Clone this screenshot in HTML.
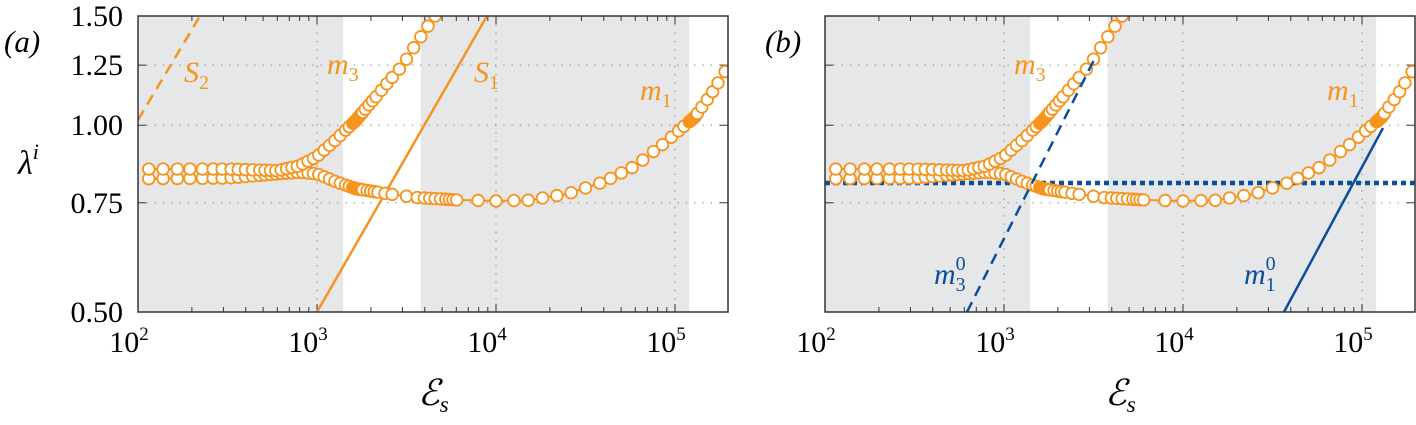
<!DOCTYPE html>
<html><head><meta charset="utf-8"><style>
html,body{margin:0;padding:0;background:#fff;width:1416px;height:425px;overflow:hidden}
svg, svg text, svg tspan{font-family:"Liberation Serif","Times New Roman","DejaVu Serif",serif !important}
svg text.cal{font-family:"DejaVu Serif",serif !important}
</style></head><body>
<svg id="s" width="1416" height="425" xmlns="http://www.w3.org/2000/svg">
<text x="4" y="52" font-size="31" font-style="italic">(a)</text>
<text x="765" y="52" font-size="31" font-style="italic">(b)</text>
</svg>
<script>
const S=document.getElementById('s');const NS='http://www.w3.org/2000/svg';
function el(t,a,txt){const e=document.createElementNS(NS,t);for(const k in a)e.setAttribute(k,a[k]);if(txt!=null)e.textContent=txt;S.appendChild(e);return e;}
const OR='#F7941D',BL='#0B4F9C',DEC=179,TOP=16,BOT=312;
function Y(l){return BOT-(Math.log(l)-Math.log(0.5))/(Math.log(1.5)-Math.log(0.5))*(BOT-TOP);}
const up=[[2.06,.85],[2.5,.85],[2.78,.845],[2.9,.86],[3,.89],[3.11,.95],[3.22,1.02],[3.34,1.12],[3.48,1.25],[3.66,1.5]];
const lo=[[2.06,.82],[2.5,.822],[2.78,.835],[2.9,.84],[3,.835],[3.11,.81],[3.22,.79],[3.4,.775],[3.55,.765],[3.78,.758],[4,.755],[4.18,.757],[4.4,.775],[4.6,.81],[4.78,.86],[4.95,.94],[5.11,1.03],[5.2,1.12],[5.28,1.22]];
function interp(c,L){for(let i=0;i<c.length-1;i++){if(L<=c[i+1][0]){const t=(L-c[i][0])/(c[i+1][0]-c[i][0]);return c[i][1]+t*(c[i+1][1]-c[i][1]);}}return c[c.length-1][1];}
const common=[2.06,2.14,2.22,2.29,2.36,2.42,2.47,2.52,2.56,2.60,2.64,2.68,2.71,2.74,2.77,2.80,2.83,2.86,2.89,2.92,2.95,2.98,3.01,3.04,3.07,3.10,3.13,3.16,3.18,3.20];
const dense=[];for(let l=3.205;l<=3.255;l+=0.005)dense.push(l);
const upX=common.concat(dense,[3.27,3.29,3.31,3.33,3.36,3.39,3.42,3.46,3.50,3.54,3.58,3.62,3.66]);
const d2=[];for(let l=5.08;l<=5.125;l+=0.005)d2.push(l);
const loX=common.concat(dense,[3.28,3.30,3.32,3.34,3.38,3.42,3.50,3.56,3.60,3.63,3.66,3.69,3.72,3.74,3.76,3.78,3.90,4.00,4.10,4.18,4.26,4.34,4.42,4.5,4.58,4.64,4.70,4.76,4.82,4.88,4.93,4.98,5.02,5.05],d2,[5.15,5.18,5.21,5.24,5.28]);
function panel(x0,b){
 const W=590,X=L=>x0+(L-2)*DEC;
 el('rect',{x:x0,y:TOP,width:X(Math.log10(1400))-x0,height:BOT-TOP,fill:'#E6E7E8'});
 el('rect',{x:X(Math.log10(3800)),y:TOP,width:X(Math.log10(120000))-X(Math.log10(3800)),height:BOT-TOP,fill:'#E6E7E8'});
 for(const v of [.75,1,1.25])el('line',{x1:x0,x2:x0+W,y1:Y(v),y2:Y(v),stroke:'#999','stroke-width':1.3,'stroke-dasharray':'1.3 7'});
 for(const d of [3,4,5])el('line',{x1:X(d),x2:X(d),y1:TOP,y2:BOT,stroke:'#999','stroke-width':1.3,'stroke-dasharray':'1.3 7'});
 for(let d=2;d<6;d++)for(let m=1;m<10;m++){const L=d+Math.log10(m);if(L>5.3)break;const len=m==1?8:5;const x=X(L);
  el('line',{x1:x,x2:x,y1:BOT,y2:BOT-len,stroke:'#333','stroke-width':1});el('line',{x1:x,x2:x,y1:TOP,y2:TOP+len,stroke:'#333','stroke-width':1});}
 for(const v of [.5,.75,1,1.25,1.5]){el('line',{x1:x0,x2:x0+8,y1:Y(v),y2:Y(v),stroke:'#333'});el('line',{x1:x0+W-8,x2:x0+W,y1:Y(v),y2:Y(v),stroke:'#333'});}
 const cid='c'+x0;const cp=el('clipPath',{id:cid});const r=document.createElementNS(NS,'rect');r.setAttribute('x',x0);r.setAttribute('y',TOP);r.setAttribute('width',W);r.setAttribute('height',BOT-TOP);cp.appendChild(r);
 const g=el('g',{'clip-path':'url(#'+cid+')'});
 function ln(a){const e=document.createElementNS(NS,'line');for(const k in a)e.setAttribute(k,a[k]);g.appendChild(e);}
 if(!b){
  ln({x1:x0,y1:Y(1.02),x2:x0+62,y2:TOP,stroke:OR,'stroke-width':2.5,'stroke-dasharray':'11 7'});
  ln({x1:X(3),y1:BOT,x2:X(3)+170,y2:TOP,stroke:OR,'stroke-width':2.5});
 }else{
  ln({x1:x0+W,y1:183,x2:x0,y2:183,stroke:BL,'stroke-width':4.5,'stroke-dasharray':'5 4'});
 }
 for(const c of [up,lo]){let d='';for(let L=2.06;L<=c[c.length-1][0];L+=0.01)d+=(d?'L':'M')+X(L).toFixed(1)+','+Y(interp(c,L)).toFixed(1);
  const p=document.createElementNS(NS,'path');p.setAttribute('d',d);p.setAttribute('fill','none');p.setAttribute('stroke',OR);p.setAttribute('stroke-width',2);g.appendChild(p);}
 for(const [c,xs] of [[lo,loX],[up,upX]])for(const L of xs){const e=document.createElementNS(NS,'circle');e.setAttribute('cx',X(L));e.setAttribute('cy',Y(interp(c,L)));e.setAttribute('r',5.8);e.setAttribute('fill','#fff');e.setAttribute('stroke',OR);e.setAttribute('stroke-width',1.8);g.appendChild(e);}
 if(b){
  ln({x1:967,y1:BOT,x2:1094,y2:60,stroke:BL,'stroke-width':2.5,'stroke-dasharray':'11 7'});
  ln({x1:1284,y1:BOT,x2:1383,y2:128,stroke:BL,'stroke-width':2.5});
 }
 el('rect',{x:x0,y:TOP,width:W,height:BOT-TOP,fill:'none',stroke:'#333','stroke-width':1.5});
 for(const d of [2,3,4,5]){const t=el('text',{x:X(d)-9,y:352,'font-size':30,'text-anchor':'middle'},'10');const s=document.createElementNS(NS,'tspan');s.setAttribute('dy',-12);s.setAttribute('font-size',19);s.textContent=d;t.appendChild(s);}
 const xl=el('text',{x:x0+280,y:405,'font-size':36,'font-style':'italic','class':'cal'},'ℰ');const ss=document.createElementNS(NS,'tspan');ss.setAttribute('font-size',23);ss.setAttribute('dy',7);ss.textContent='s';xl.appendChild(ss);
 function lab(x,y,m,sub,sup,col){const t=el('text',{x:x,y:y,'font-size':30,'font-style':'italic',fill:col},m);const a=document.createElementNS(NS,'tspan');a.setAttribute('font-size',20);a.setAttribute('font-style','normal');a.setAttribute('dy',7);a.textContent=sub;t.appendChild(a);
  if(sup){const u=document.createElementNS(NS,'tspan');u.setAttribute('font-size',20);u.setAttribute('font-style','normal');u.setAttribute('dx',-10);u.setAttribute('dy',-21);u.textContent=sup;t.appendChild(u);}}
 if(!b){lab(184,82,'S','2',null,OR);lab(327,74,'m','3',null,OR);lab(474,82,'S','1',null,OR);lab(640,100,'m','1',null,OR);}
 else{lab(1014,74,'m','3',null,OR);lab(1327,100,'m','1',null,OR);lab(934,284,'m','3','0',BL);lab(1244,284,'m','1','0',BL);}
}
panel(138,false);panel(825,true);
for(const [v,s] of [[.5,'0.50'],[.75,'0.75'],[1,'1.00'],[1.25,'1.25'],[1.5,'1.50']])el('text',{x:123,y:Y(v)+10,'font-size':30,'text-anchor':'end'},s);
const lt=el('text',{x:18,y:174,'font-size':34,'font-style':'italic'},'λ');const sp=document.createElementNS(NS,'tspan');sp.setAttribute('font-size',22);sp.setAttribute('dy',-15);sp.textContent='i';lt.appendChild(sp);
</script>
</body></html>
